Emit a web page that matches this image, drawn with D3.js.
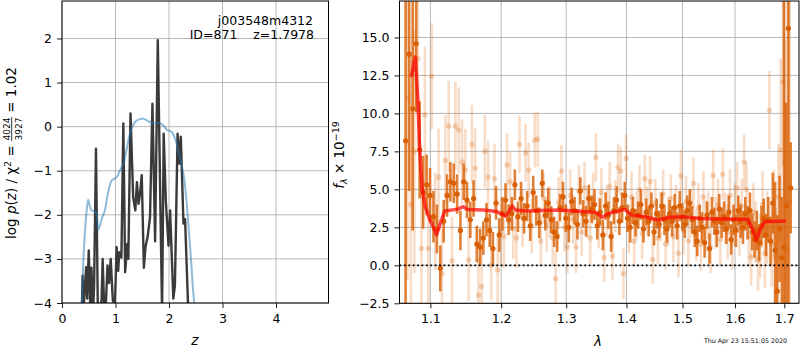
<!DOCTYPE html>
<html>
<head>
<meta charset="utf-8">
<script src="https://cdn.jsdelivr.net/npm/d3@7"></script>
<style>
  body { margin: 0; background: #fff; }
  text { font-family: 'DejaVu Sans', sans-serif; }
</style>
</head>
<body>
<svg id="fig" width="800" height="350"></svg>
<script>
// ---- p(z) panel ----
const zTicks = [0, 1, 2, 3, 4];
const pTicks = [-4, -3, -2, -1, 0, 1, 2];

// spiky log p(z) (dark)
const pzZ = [0.37, 0.385, 0.40, 0.43, 0.45, 0.47, 0.50, 0.53, 0.55, 0.58, 0.60, 0.635, 0.67, 0.72, 0.74, 0.76,
  0.79, 0.82, 0.85, 0.88, 0.91, 0.95, 0.99, 1.02, 1.05, 1.07, 1.11, 1.146, 1.18, 1.22, 1.24, 1.28, 1.33, 1.37,
  1.40, 1.43, 1.46, 1.49, 1.53, 1.56, 1.60, 1.645, 1.69, 1.74, 1.79, 1.87, 1.90, 1.94, 1.99, 2.02, 2.08, 2.11,
  2.16, 2.19, 2.22, 2.27, 2.30, 2.36];
const pzDark = [-4.2, -3.38, -4.2, -3.6, -3.19, -3.9, -2.81, -4.2, -3.2, -4.2, -3.6, -0.5, -4.2, -4.2, -3.9, -3.0,
  -4.2, -4.0, -3.15, -3.55, -3.0, -3.95, -4.0, -2.73, -3.27, -2.85, -2.97, 0.07, -3.3, -2.66, -3.0, 0.3, -1.6, -1.9,
  -1.26, -1.75, -1.5, -1.1, -3.2, -2.73, -2.5, -2.05, 0.52, -2.6, 1.96, -4.2, -0.16, -1.68, -2.7, -1.9, -3.9, -3.6,
  -0.16, -0.84, -0.23, -2.2, -2.1, -4.2];

// smooth log p(z) (blue)
const pzSmoothZ = [0.37, 0.40, 0.44, 0.47, 0.49, 0.52, 0.555, 0.63, 0.68, 0.74, 0.80, 0.86, 0.93, 1.02, 1.08, 1.15,
  1.21, 1.27, 1.36, 1.45, 1.52, 1.60, 1.71, 1.83, 1.90, 1.96, 2.05, 2.12, 2.17, 2.27, 2.32, 2.36, 2.41, 2.45, 2.48];
const pzSmooth = [-4.1, -3.0, -2.2, -1.8, -1.66, -1.8, -1.9, -1.93, -2.34, -2.1, -1.9, -1.5, -1.22, -1.15, -1.0, -0.84,
  -0.5, -0.16, 0.1, 0.17, 0.18, 0.13, 0.07, 0.08, 0.02, -0.07, -0.12, -0.3, -0.54, -1.07, -1.6, -2.2, -3.0, -3.72, -4.1];

// ---- spectrum panel ----
const lamTicks = [1.1, 1.2, 1.3, 1.4, 1.5, 1.6, 1.7];
const fluxTicks = [-2.5, 0, 2.5, 5, 7.5, 10, 12.5, 15];

// pixel grid of the spectra (microns)
const darkLam0 = 1.067, lightLam0 = 1.0693, lamStep = 0.00465;

const darkFlux = [8.2, 13.9, 10.3, 14.6, 7.6, 4.8, 5.3, 4.6, 3.2, 2.4,
  -0.2, 2.9, 4.6, 5.5, 5.4, 4.7, 2.3, 5.5, 4.3, 3.0,
  4.4, 1.4, 1.2, 1.8, 3.0, 2.3, 1.1, 4.1, 2.0, 3.4,
  4.3, 3.0, 3.4, 5.3, 3.2, 4.4, 3.1, 3.9, 2.6, 4.8,
  3.6, 2.8, 5.4, 3.3, 4.1, 3.0, 2.2, 1.9, 3.8, 4.5,
  3.1, 2.5, 4.2, 3.6, 2.7, 4.9, 3.4, 2.9, 4.4, 3.7,
  4.0, 2.6, 3.5, 2.0, 3.9, 3.3, 1.9, 3.6, 4.3, 2.9,
  3.8, 4.6, 3.1, 2.5, 3.6, 2.8, 3.3, 4.0, 2.4, 3.5,
  2.9, 3.9, 2.2, 3.4, 2.7, 3.9, 3.0, 2.4, 3.4, 2.9,
  3.8, 2.6, 3.9, 3.2, 2.7, 3.6, 4.1, 3.0, 2.2, 1.6,
  3.1, 2.5, 1.5, 3.3, 1.1, 3.5, 2.9, 2.2, 3.7, 2.8,
  3.2, 2.4, 3.5, 1.7, 3.0, 2.3, 3.6, 2.9, 2.5, 3.4,
  2.8, 3.6, 2.2, 1.7, 2.3, 1.5, 2.6, 3.1, 2.0, 3.0,
  1.6, 4.1, 1.0, -1.7, 2.4, 0.5, 1.2, 3.9, 15.6, 5.1];
const darkErr = [30, 9, 8, 4.5, 3.2, 2.4, 2.0, 1.8, 1.7, 1.6,
  1.5, 1.4, 1.4, 1.3, 1.3, 1.3, 1.3, 1.2, 1.2, 1.2,
  1.2, 1.2, 1.2, 1.1, 1.1, 1.1, 1.1, 1.1, 1.1, 1.1,
  1.1, 1.0, 1.1, 1.0, 1.0, 1.1, 1.0, 1.0, 1.0, 1.1,
  1.0, 1.0, 0.9, 1.0, 1.0, 0.9, 1.0, 1.0, 0.9, 1.0,
  0.9, 1.0, 0.9, 0.9, 1.0, 0.9, 0.9, 1.0, 0.9, 0.9,
  1.0, 0.9, 0.9, 1.0, 0.9, 0.9, 1.0, 0.9, 0.9, 0.9,
  1.0, 0.9, 0.9, 1.0, 0.9, 0.9, 0.9, 1.0, 0.9, 0.9,
  1.0, 0.9, 0.9, 1.0, 0.9, 0.9, 1.0, 0.9, 0.9, 1.0,
  0.9, 0.9, 1.0, 0.9, 0.9, 1.0, 0.9, 0.9, 1.0, 1.0,
  0.9, 1.0, 1.0, 0.9, 1.0, 1.0, 0.9, 1.0, 1.0, 1.0,
  1.0, 1.0, 1.1, 1.0, 1.0, 1.1, 1.0, 1.1, 1.1, 1.1,
  1.1, 1.2, 1.2, 1.2, 1.3, 1.2, 1.3, 1.3, 1.4, 1.5,
  1.6, 2.0, 4.5, 5.0, 3.5, 4.0, 22, 6.8, 20, 3.0];

const lightFlux = [11.0, 4.0, 7.5, 13.6, 1.1, 9.9, 1.1, 12.45, 2.9, 5.8,
  -0.57, 6.9, 9.16, 0.3, 9.16, 8.9, 6.8, 6.27, 0.35, 7.96,
  6.4, -1.97, -1.4, 7.5, 5.8, 0.0, 5.7, -0.3, 2.2, 1.9,
  6.6, 5.5, 2.4, 1.8, 7.96, 3.1, 7.4, 6.27, 2.6, 8.24,
  8.3, 1.6, 4.4, 2.7, 3.5, 1.8, -0.88, 4.1, 6.2, 2.5,
  1.2, 4.6, 3.0, 1.2, 4.9, 2.2, 5.1, 3.4, 1.8, 4.4,
  7.1, 2.8, 4.8, 0.5, 3.6, 5.2, 0.6, 3.9, 6.42, 6.2,
  -0.53, 7.04, 2.4, 4.5, 1.6, 3.3, 5.0, 2.1, 5.7, 3.6,
  5.5, 0.39, 4.1, 1.8, 3.2, 4.7, 1.4, 2.9, 4.4, 1.9,
  3.7, 0.8, 5.9, 2.3, 4.2, 1.6, 3.4, 5.4, 2.0, 3.8,
  1.4, 4.5, 2.6, 3.3, 1.2, 5.9, 2.8, 4.0, 1.7, 6.0,
  3.1, 2.2, 4.6, 1.5, 3.6, 5.1, 2.4, 3.9, 6.8, 5.0,
  1.9, 0.55, 3.5, 2.2, 0.35, 1.3, 4.0, 0.8, 2.5, 10.2,
  1.4, 3.3, 0.6, 4.5, 7.6, 12.06, 6.8, 1.0, 4.2];
const lightErr = [12, 10, 8, 6, 5, 4.5, 4, 3.5, 3.2, 3.2,
  3.0, 3.0, 3.0, 2.9, 2.9, 2.8, 2.8, 2.7, 2.7, 2.6,
  2.6, 2.5, 2.5, 2.4, 2.4, 2.3, 2.3, 2.2, 2.2, 2.1,
  2.1, 2.0, 2.0, 2.0, 1.9, 1.9, 1.9, 1.8, 1.8, 1.8,
  1.8, 1.7, 1.7, 1.8, 1.7, 1.7, 1.8, 1.7, 1.7, 1.6,
  1.7, 1.7, 1.6, 1.7, 1.7, 1.6, 1.7, 1.6, 1.7, 1.7,
  1.6, 1.7, 1.6, 1.6, 1.7, 1.6, 1.6, 1.7, 1.6, 1.6,
  1.7, 1.6, 1.6, 1.7, 1.6, 1.6, 1.6, 1.7, 1.6, 1.6,
  1.7, 1.6, 1.6, 1.7, 1.6, 1.6, 1.7, 1.6, 1.6, 1.7,
  1.6, 1.6, 1.7, 1.6, 1.7, 1.7, 1.6, 1.7, 1.7, 1.6,
  1.7, 1.7, 1.7, 1.6, 1.7, 1.7, 1.7, 1.7, 1.7, 1.7,
  1.7, 1.8, 1.7, 1.8, 1.8, 1.7, 1.8, 1.8, 1.8, 1.8,
  1.9, 1.9, 1.9, 2.0, 2.0, 2.1, 2.2, 2.3, 2.4, 2.6,
  2.8, 3.0, 3.2, 3.5, 6, 5.5, 8, 20, 20];

// best-fit template
const modelLam = [1.0744, 1.0797, 1.0833, 1.0855, 1.0886, 1.093, 1.0996, 1.1085, 1.115, 1.1196, 1.138, 1.145,
  1.152, 1.1745, 1.1929, 1.207, 1.2166, 1.2213, 1.236, 1.2877, 1.3472, 1.3594, 1.3695, 1.3972, 1.4088, 1.4319,
  1.4555, 1.477, 1.5, 1.5324, 1.57, 1.6257, 1.6357, 1.6426, 1.6496, 1.6595, 1.7028];
const modelFlux = [12.4, 13.72, 10.9, 7.8, 5.17, 3.86, 2.98, 2.0, 2.98, 3.57, 3.7, 3.86,
  3.68, 3.64, 3.55, 3.24, 3.9, 3.64, 3.57, 3.64, 3.49, 3.16, 3.42, 3.68, 3.31, 3.2,
  2.98, 3.16, 3.2, 3.09, 3.05, 3.03, 2.32, 1.66, 2.32, 2.87, 2.91];

const fontSize = 12.5;
const orange = '#d95f02';

const svg = d3.select('#fig');
svg.append('rect').attr('width', 800).attr('height', 350).attr('fill', '#fff');
const defs = svg.append('defs');

function panel(box, x, y, xt, yt, xfmt, yfmt, id) {
  defs.append('clipPath').attr('id', id)
    .append('rect')
    .attr('x', box.x0).attr('y', box.y0)
    .attr('width', box.x1 - box.x0).attr('height', box.y1 - box.y0);

  const grid = svg.append('g').attr('stroke', '#b0b0b0').attr('stroke-width', 0.9);
  grid.selectAll('.gx').data(xt).enter().append('line')
    .attr('x1', d => x(d)).attr('x2', d => x(d))
    .attr('y1', box.y0).attr('y2', box.y1);
  grid.selectAll('.gy').data(yt).enter().append('line')
    .attr('x1', box.x0).attr('x2', box.x1)
    .attr('y1', d => y(d)).attr('y2', d => y(d));

  const plot = svg.append('g').attr('clip-path', `url(#${id})`);

  const drawAxes = () => {
    const ax = svg.append('g')
      .attr('transform', `translate(0,${box.y1})`)
      .call(d3.axisBottom(x).tickValues(xt).tickSize(5).tickPadding(6).tickFormat(xfmt));
    const ay = svg.append('g')
      .attr('transform', `translate(${box.x0},0)`)
      .call(d3.axisLeft(y).tickValues(yt).tickSize(5).tickPadding(5).tickFormat(yfmt));
    [ax, ay].forEach(a => {
      a.select('.domain').remove();
      a.selectAll('text').attr('font-size', fontSize).attr('fill', '#000')
        .attr('font-family', "'DejaVu Sans', sans-serif");
      a.selectAll('line').attr('stroke', '#000').attr('stroke-width', 0.9);
    });
    svg.append('rect')
      .attr('x', box.x0).attr('y', box.y0)
      .attr('width', box.x1 - box.x0).attr('height', box.y1 - box.y0)
      .attr('fill', 'none').attr('stroke', '#000').attr('stroke-width', 1);
  };
  return { plot, drawAxes };
}

// ---------- left: p(z) ----------
const L = { x0: 62, x1: 328.5, y0: 1, y1: 303 };
const xz = d3.scaleLinear().domain([0, 4.98]).range([L.x0, L.x1]);
const yp = d3.scaleLinear().domain([-4, 2.85]).range([L.y1, L.y0]);
const left = panel(L, xz, yp, zTicks, pTicks, d3.format('d'), d3.format('d'), 'clipL');

left.plot.append('path')
  .datum(d3.zip(pzZ, pzDark))
  .attr('d', d3.line().x(d => xz(d[0])).y(d => yp(d[1])))
  .attr('fill', 'none').attr('stroke', '#3a3a3a').attr('stroke-width', 2.4)
  .attr('stroke-linejoin', 'round');

left.plot.append('path')
  .datum(d3.zip(pzSmoothZ, pzSmooth))
  .attr('d', d3.line().curve(d3.curveCatmullRom).x(d => xz(d[0])).y(d => yp(d[1])))
  .attr('fill', 'none').attr('stroke', '#1f77b4').attr('stroke-opacity', 0.5).attr('stroke-width', 2);

left.drawAxes();

svg.append('text').attr('x', 313).attr('y', 25).attr('text-anchor', 'end')
  .attr('font-size', fontSize).text('j003548m4312');
svg.append('text').attr('x', 314).attr('y', 39).attr('text-anchor', 'end')
  .attr('font-size', fontSize).style('white-space', 'pre').text('ID=871    z=1.7978');

svg.append('text').attr('x', xz(2.48)).attr('y', 345).attr('text-anchor', 'middle')
  .attr('font-size', 13.5).attr('font-style', 'italic').text('z');

// y label with stacked fraction
{
  const g = svg.append('g').attr('transform', 'translate(16,153) rotate(-90)');
  const inner = g.append('g');
  const t1 = inner.append('text').attr('font-size', 13.5);
  t1.append('tspan').text('log ');
  t1.append('tspan').attr('font-style', 'italic').text('p');
  t1.append('tspan').text('(');
  t1.append('tspan').attr('font-style', 'italic').text('z');
  t1.append('tspan').text(') / χ');
  t1.append('tspan').attr('font-size', 9.5).attr('dy', -5.5).text('2');
  t1.append('tspan').attr('dy', 5.5).style('white-space', 'pre').text(' = ');
  const w1 = t1.node().getComputedTextLength();
  const num = inner.append('text').attr('font-size', 9).attr('y', -6).attr('text-anchor', 'middle').text('4024');
  const den = inner.append('text').attr('font-size', 9).attr('y', 6).attr('text-anchor', 'middle').text('3927');
  const fw = Math.max(num.node().getComputedTextLength(), den.node().getComputedTextLength()) + 1;
  num.attr('x', w1 + fw / 2);
  den.attr('x', w1 + fw / 2);
  inner.append('line').attr('x1', w1).attr('x2', w1 + fw).attr('y1', -4.3).attr('y2', -4.3)
    .attr('stroke', '#000').attr('stroke-width', 0.8);
  const t3 = inner.append('text').attr('font-size', 13.5).attr('x', w1 + fw)
    .style('white-space', 'pre').text(' = 1.02');
  const total = w1 + fw + t3.node().getComputedTextLength();
  inner.attr('transform', `translate(${-total / 2},0)`);
}

// ---------- right: spectrum ----------
const R = { x0: 399.5, x1: 799, y0: 1, y1: 303.3 };
const xl = d3.scaleLog().domain([1.059, 1.731]).range([R.x0, R.x1]);
const yf = d3.scaleLinear().domain([-2.5, 17.4]).range([R.y1, R.y0]);
const right = panel(R, xl, yf, lamTicks, fluxTicks, d3.format('.1f'), d3.format('.1f'), 'clipR');

const lightPts = lightFlux.map((f, j) => ({ lam: lightLam0 + j * lamStep, f, e: lightErr[j] }));
const darkPts = darkFlux.map((f, i) => ({ lam: darkLam0 + i * lamStep, f, e: darkErr[i] }));

const lightG = right.plot.append('g');
lightG.selectAll('line').data(lightPts).enter().append('line')
  .attr('x1', d => xl(d.lam)).attr('x2', d => xl(d.lam))
  .attr('y1', d => yf(d.f - d.e)).attr('y2', d => yf(d.f + d.e))
  .attr('stroke', orange).attr('stroke-opacity', 0.22).attr('stroke-width', 2.6);
lightG.selectAll('circle').data(lightPts).enter().append('circle')
  .attr('cx', d => xl(d.lam)).attr('cy', d => yf(d.f)).attr('r', 2.7)
  .attr('fill', orange).attr('fill-opacity', 0.25);

const darkG = right.plot.append('g');
darkG.selectAll('line').data(darkPts).enter().append('line')
  .attr('x1', d => xl(d.lam)).attr('x2', d => xl(d.lam))
  .attr('y1', d => yf(d.f - d.e)).attr('y2', d => yf(d.f + d.e))
  .attr('stroke', orange).attr('stroke-opacity', 0.8).attr('stroke-width', 2.6);
darkG.selectAll('circle').data(darkPts).enter().append('circle')
  .attr('cx', d => xl(d.lam)).attr('cy', d => yf(d.f)).attr('r', 2.6)
  .attr('fill', orange);

right.plot.append('line')
  .attr('x1', R.x0).attr('x2', R.x1).attr('y1', yf(0)).attr('y2', yf(0))
  .attr('stroke', '#000').attr('stroke-width', 1.8).attr('stroke-dasharray', '1.8,2.6');

right.plot.append('path')
  .datum(d3.zip(modelLam, modelFlux))
  .attr('d', d3.line().x(d => xl(d[0])).y(d => yf(d[1])))
  .attr('fill', 'none').attr('stroke', '#ff0000').attr('stroke-opacity', 0.7)
  .attr('stroke-width', 3.5).attr('stroke-linejoin', 'round');

right.drawAxes();

svg.append('text').attr('x', 598).attr('y', 346).attr('text-anchor', 'middle')
  .attr('font-size', 13.5).attr('font-style', 'italic').text('λ');

{
  const t = svg.append('text').attr('transform', 'translate(344,155) rotate(-90)')
    .attr('text-anchor', 'middle').attr('font-size', 13.5);
  t.append('tspan').attr('font-style', 'italic').text('f');
  t.append('tspan').attr('font-size', 9.5).attr('font-style', 'italic').attr('dy', 3).text('λ');
  t.append('tspan').attr('dy', -3).style('white-space', 'pre').text(' × 10');
  t.append('tspan').attr('font-size', 9.5).attr('dy', -5.5).text('−19');
}

svg.append('text').attr('x', 787).attr('y', 343).attr('text-anchor', 'end')
  .attr('font-size', 6.3).attr('fill', '#000').text('Thu Apr 23 15:51:05 2020');
</script>
</body>
</html>
